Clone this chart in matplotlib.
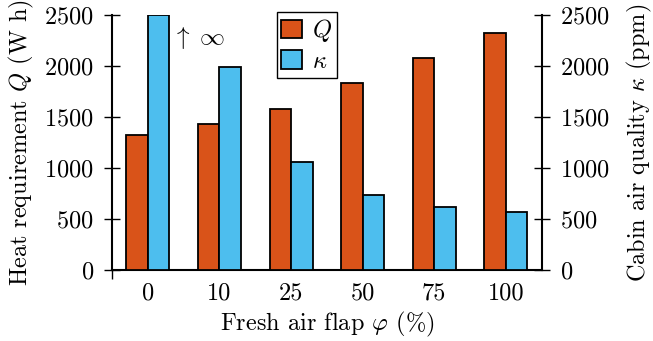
import numpy as np
import matplotlib.pyplot as plt

plt.rcParams['font.family'] = 'cmr10'
plt.rcParams['mathtext.fontset'] = 'cm'
plt.rcParams['axes.formatter.use_mathtext'] = True
plt.rcParams['font.size'] = 17.5

# fresh air flap settings and results
flap = ['0', '10', '25', '50', '75', '100']
heat_q = [1320, 1430, 1580, 1830, 2080, 2320]
kappa = [2500, 1990, 1060, 740, 620, 570]   # first value is clipped (infinite)

c_q = '#D95319'
c_k = '#4DBEEE'

fig = plt.figure(figsize=(6.53, 3.41), dpi=100)
ax = fig.add_axes([0.1715, 0.2082, 0.658, 0.7478])
ax2 = ax.twinx()

x = np.arange(len(flap))
w = 0.3
ax.bar(x - w / 2, heat_q, w, color=c_q, edgecolor='black', linewidth=1.3, label='$Q$', zorder=3)
ax2.bar(x + w / 2, kappa, w, color=c_k, edgecolor='black', linewidth=1.3, label=r'$\kappa$', zorder=3)

ax2.text(x[0] + w + 0.04, 2275, r'$\uparrow\;\infty$', fontsize=18, va='center', ha='left')

for a in (ax, ax2):
    a.set_xlim(-0.5, 5.5)
    a.set_ylim(0, 2500)
    a.set_yticks([0, 500, 1000, 1500, 2000, 2500])
    a.spines['top'].set_visible(False)
    for s in a.spines.values():
        s.set_linewidth(1.5)
    a.tick_params(axis='y', direction='inout', length=12, width=1.0, pad=7)

ax.spines['right'].set_visible(False)
ax2.spines['left'].set_visible(False)
ax2.spines['bottom'].set_visible(False)

ax.set_xticks(x)
ax.set_xticklabels(flap)
ax.tick_params(axis='x', length=0, pad=9)
ax.set_xticks([-0.5], minor=True)
ax.tick_params(axis='x', which='minor', direction='out', length=6.5, width=1.0)

ax.set_xlabel(r'Fresh air flap $\varphi$ (%)', labelpad=4)
ax.set_ylabel(r'Heat requirement $Q$ (W h)', labelpad=6)
ax2.set_ylabel(r'Cabin air quality $\kappa$ (ppm)', labelpad=11)

h1, l1 = ax.get_legend_handles_labels()
h2, l2 = ax2.get_legend_handles_labels()
ax2.legend(h1 + h2, l1 + l2, loc='upper left', bbox_to_anchor=(0.383, 1.01),
           fancybox=False, framealpha=1, edgecolor='black', handlelength=0.85,
           handleheight=0.8, handletextpad=0.4, borderpad=0.2, labelspacing=0.25,
           borderaxespad=0, fontsize=17.5)

fig.savefig('out.png', dpi=100)
